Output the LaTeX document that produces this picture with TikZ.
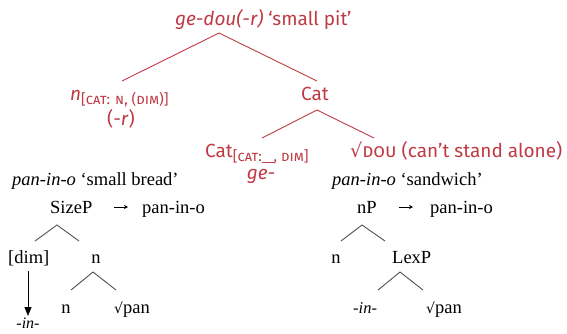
\documentclass[tikz,border=0pt]{standalone}
\usepackage{fontspec}
\usetikzlibrary{arrows.meta}
\setmainfont{Liberation Serif}
\newfontfamily\redsf{Fira Sans}
\newfontfamily\djv{DejaVu Sans}
\newfontfamily\djvs{DejaVu Serif}
\definecolor{redc}{RGB}{190,58,68}
\definecolor{grayc}{RGB}{80,80,80}
\newcommand{\subsc}[1]{\raisebox{-4.5pt}{\fontsize{14.5}{16}\selectfont #1}}
\newcommand{\rt}{{\djvs\fontsize{14}{16}\selectfont √}}
\begin{document}
\begin{tikzpicture}[x=1pt,y=1pt,
  rtxt/.style={font=\redsf\fontsize{19}{22}\selectfont, text=redc, inner sep=0pt},
  stxt/.style={font=\fontsize{18.5}{21}\selectfont, text=black, inner sep=0pt},
  rline/.style={draw=redc, line width=0.9pt},
  gline/.style={draw=grayc, line width=0.9pt},
  sarrow/.style={draw=black, line width=0.6pt, -{Stealth[length=4pt,width=4pt]}},
  darrow/.style={draw=black, line width=1pt, -{Triangle[length=9pt,width=7pt]}},
]
\useasboundingbox (0,0) rectangle (567,-333);
% ---------- red tree ----------
\node[rtxt, anchor=base west] (top) at (175,-25) {\textit{ge-dou(-r)} ‘small pit’};
\coordinate (tA) at (219,-33);
\coordinate (tL) at (122,-81);
\coordinate (tR) at (317,-81);
\draw[rline] (tL) -- (tA) -- (tR);
\node[rtxt, anchor=base west] (nn) at (70,-100) {\textit{n}\subsc{[\textsc{cat}: \textsc{n}, (\textsc{dim})]}};
\node[rtxt, anchor=base] (nr) at (121,-125) {(-\textit{r})};
\node[rtxt, anchor=base west] (cat) at (301,-100) {Cat};
\coordinate (cA) at (317,-110);
\coordinate (cL) at (262,-138);
\coordinate (cR) at (374,-138);
\draw[rline] (cL) -- (cA) -- (cR);
\node[rtxt, anchor=base west] (catsub) at (205,-157) {Cat\subsc{[\textsc{cat}:\rule[-1pt]{12pt}{0.7pt}, \textsc{dim}]}};
\node[rtxt, anchor=base] (ge) at (261,-179) {\textit{ge-}};
\node[rtxt, anchor=base west] (dou) at (350,-157) {{\djv √}\textsc{dou} (can’t stand alone)};
% ---------- left tree ----------
\node[stxt, anchor=base west] (capL) at (12,-185) {\textit{pan-in-o} ‘small bread’};
\node[stxt, anchor=base west] (sizep) at (50,-213) {SizeP};
\coordinate (aL1) at (114,-207);
\coordinate (aL2) at (128,-207);
\draw[sarrow] (aL1) -- (aL2);
\node[stxt, anchor=base west] (outL) at (142,-213) {pan-in-o};
\coordinate (sA) at (57,-225);
\coordinate (sL) at (35,-241);
\coordinate (sR) at (79,-241);
\draw[gline] (sL) -- (sA) -- (sR);
\node[stxt, anchor=base west] (dim) at (8,-263) {[dim]};
\node[stxt, anchor=base] (n1) at (96,-263) {n};
\coordinate (nA) at (93,-272);
\coordinate (nL) at (71,-290);
\coordinate (nR) at (116,-290);
\draw[gline] (nL) -- (nA) -- (nR);
\node[stxt, anchor=base] (n2) at (66,-313) {n};
\node[stxt, anchor=base west] (panL) at (114,-313) {\rt pan};
\coordinate (dA) at (28,-271);
\coordinate (dB) at (28,-316);
\draw[darrow] (dA) -- (dB);
\node[stxt, anchor=base, font=\fontsize{16}{18}\selectfont] (inL) at (28,-328) {\textit{-in-}};
% ---------- right tree ----------
\node[stxt, anchor=base west] (capR) at (332,-185) {\textit{pan-in-o} ‘sandwich’};
\node[stxt, anchor=base west] (np) at (357,-213) {nP};
\coordinate (aR1) at (399,-207);
\coordinate (aR2) at (413,-207);
\draw[sarrow] (aR1) -- (aR2);
\node[stxt, anchor=base west] (outR) at (430,-213) {pan-in-o};
\coordinate (pA) at (362,-225);
\coordinate (pL) at (341,-241);
\coordinate (pR) at (385,-241);
\draw[gline] (pL) -- (pA) -- (pR);
\node[stxt, anchor=base] (n3) at (336,-263) {n};
\node[stxt, anchor=base west] (lexp) at (392,-263) {LexP};
\coordinate (lA) at (400,-272);
\coordinate (lL) at (378,-290);
\coordinate (lR) at (423,-290);
\draw[gline] (lL) -- (lA) -- (lR);
\node[stxt, anchor=base west, font=\fontsize{16.5}{18}\selectfont] (inR) at (353,-313) {\textit{-in-}};
\node[stxt, anchor=base west] (panR) at (426,-313) {\rt pan};
\end{tikzpicture}
\end{document}
